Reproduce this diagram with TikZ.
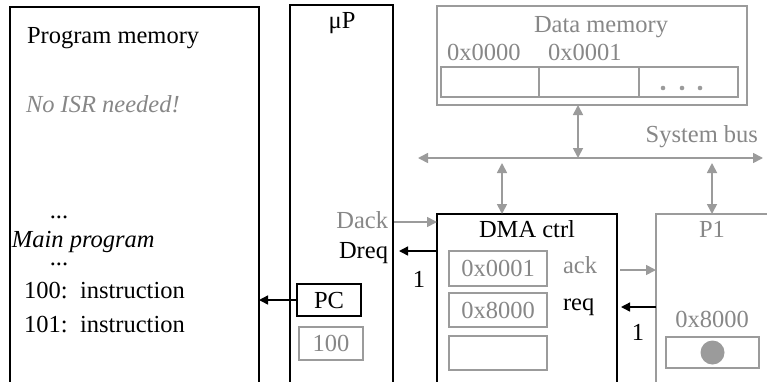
\documentclass[tikz,border=0pt]{standalone}
\usepackage{fontspec}
\setmainfont{Liberation Serif}
\usetikzlibrary{arrows.meta,calc}
\definecolor{gtext}{RGB}{135,135,135}
\definecolor{gline}{RGB}{155,155,155}
\begin{document}
\begin{tikzpicture}[x=1pt,y=-1pt,
  every node/.style={font=\fontsize{24.5}{29}\selectfont, inner sep=0pt, outer sep=0pt},
  bbox/.style={draw=black, line width=1.3pt, anchor=north west},
  gbox/.style={draw=gline, line width=1.3pt, anchor=north west},
  gt/.style={text=gtext},
  garr/.style={draw=gline, line width=1.7pt, -{Triangle[length=10pt,width=10pt]}},
  gdarr/.style={draw=gline, line width=1.7pt, {Triangle[length=10pt,width=10pt]}-{Triangle[length=10pt,width=10pt]}},
  barr/.style={draw=black, line width=1.4pt, -{Triangle[length=9pt,width=9pt]}},
]
\useasboundingbox (0,0) rectangle (767,381);
\clip (0,0) rectangle (767,381);

% Program memory
\node[bbox, minimum width=249pt, minimum height=400pt] (pm) at (10,7) {};
\node[anchor=base west] (pmt) at (27,43) {Program memory};
\node[anchor=base west, gt, font=\fontsize{24.5}{29}\selectfont\itshape] (isr) at (26,112) {No ISR needed!};
\node[anchor=base] (dots1) at (59,218) {...};
\node[anchor=base west, font=\fontsize{24.5}{29}\selectfont\itshape] (mainp) at (12,247) {Main program};
\node[anchor=base] (dots2) at (59,265) {...};
\node[anchor=base west] (a100) at (24,298) {100:};
\node[anchor=base west] (i100) at (80,298) {instruction};
\node[anchor=base west] (a101) at (24,332) {101:};
\node[anchor=base west] (i101) at (80,332) {instruction};

% microprocessor
\node[bbox, minimum width=103pt, minimum height=400pt] (up) at (290,5) {};
\node[anchor=base] (upt) at (342,28) {μP};
\node[bbox, minimum width=64pt, minimum height=32pt] (pc) at (297,284) {};
\node (pct) at (pc.center) {PC};
\node[gbox, minimum width=64pt, minimum height=33pt] (pcv) at (299,327) {};
\node[gt] (pcvt) at (pcv.center) {100};
\node[anchor=base east, gt] (dack) at (388,228) {Dack};
\node[anchor=base east] (dreq) at (388,258) {Dreq};

% DMA controller
\node[bbox, minimum width=180pt, minimum height=400pt] (dma) at (437,214) {};
\node[anchor=base] (dmat) at (527,237) {DMA ctrl};
\node[gbox, minimum width=98pt, minimum height=35pt] (r1) at (449,251) {};
\node[gt] (r1t) at (r1.center) {0x0001};
\node[gbox, minimum width=98pt, minimum height=34pt] (r2) at (449,293) {};
\node[gt] (r2t) at (r2.center) {0x8000};
\node[gbox, minimum width=98pt, minimum height=34pt] (r3) at (449,336) {};
\node[anchor=base west, gt] (ack) at (563,273) {ack};
\node[anchor=base west] (req) at (563,310) {req};

% P1
\node[gbox, minimum width=130pt, minimum height=400pt] (p1) at (656,214) {};
\node[anchor=base, gt] (p1t) at (712,237) {P1};
\node[anchor=base, gt] (p1v) at (712,327) {0x8000};
\node[gbox, minimum width=93pt, minimum height=31pt] (p1r) at (666,337) {};
\node[circle, fill=gline, minimum size=24pt] (dot) at (p1r.center) {};

% Data memory
\node[gbox, minimum width=310pt, minimum height=99pt] (dm) at (437,6) {};
\node[anchor=base, gt] (dmt) at (601,32) {Data memory};
\node[anchor=base west, gt] (a0) at (447,60) {0x0000};
\node[anchor=base west, gt] (a1) at (548,60) {0x0001};
\node[gbox, minimum width=98pt, minimum height=30pt] (c1) at (441,67) {};
\node[gbox, minimum width=100pt, minimum height=30pt] (c2) at (539,67) {};
\node[gbox, minimum width=99pt, minimum height=30pt] (c3) at (639,67) {};
\foreach \x in {663,682,700} \fill[gline] (\x,88) circle (2.3pt);

% System bus
\coordinate (busL) at (418,158);
\coordinate (busR) at (763,158);
\draw[gdarr] (busL) -- (busR);
\node[anchor=base east, gt] (bust) at (758,142) {System bus};
\coordinate (dmtap) at (578,158);
\draw[gdarr] (dmtap |- dm.south) -- (dmtap);
\coordinate (dmatap) at (502,163);
\draw[gdarr] (dmatap) -- (dmatap |- dma.north);
\coordinate (p1tap) at (712,163);
\draw[gdarr] (p1tap) -- (p1tap |- p1.north);

% signals
\draw[barr] (pc.west) -- (pc.west -| pm.east);
\coordinate (dackstart) at (394,222);
\draw[garr] (dackstart) -- (dackstart -| dma.west);
\coordinate (dreqend) at (399,251);
\draw[barr] (dreqend -| dma.west) -- (dreqend);
\node[anchor=base] (one1) at (419,287) {1};
\coordinate (ackstart) at (620,270);
\draw[garr] (ackstart) -- (ackstart -| p1.west);
\coordinate (reqend) at (621,307);
\draw[barr] (reqend -| p1.west) -- (reqend);
\node[anchor=base] (one2) at (638,340) {1};
\end{tikzpicture}
\end{document}
